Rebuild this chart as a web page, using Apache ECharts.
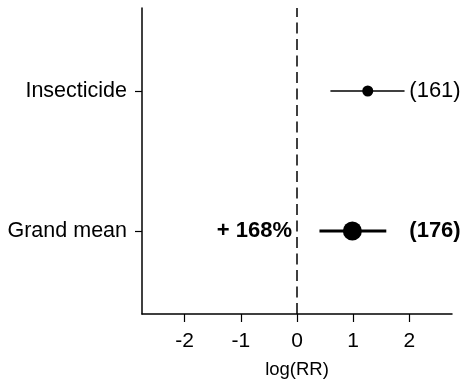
<!DOCTYPE html>
<html>
<head>
<meta charset="utf-8">
<script src="https://cdn.jsdelivr.net/npm/echarts@6/dist/echarts.min.js"></script>
<style>html,body{margin:0;padding:0;background:#fff;}#c{width:464px;height:385px;}</style>
</head>
<body>
<div id="c"></div>
<script>
const categories = ['Grand mean', 'Insecticide'];
const means = [0.986, 1.26];
const lower = [0.40, 0.595];
const upper = [1.59, 1.915];
const counts = ['(176)', '(161)'];
const percentLabels = ['+ 168%', ''];
const xTicks = [-2, -1, 0, 1, 2];
const labelX = 2.0;

const FONT = '"Liberation Sans", Arial, Helvetica, sans-serif';
const isBold = [true, false];
const dotSize = [19, 11];
const barWidth = [3, 1.3];

const chart = echarts.init(document.getElementById('c'), null, {renderer: 'canvas'});

const barData = categories.map((c, i) => [lower[i], upper[i], i]);
const pointData = categories.map((c, i) => ({value: [means[i], i], symbolSize: dotSize[i]}));
const textData = categories.map((c, i) => [labelX, i, i]);
const pctData = categories.map((c, i) => [0, i, i]);

chart.setOption({
  animation: false,
  grid: {left: 142, right: 12, top: 8, bottom: 71},
  xAxis: {
    type: 'value', min: -2.76, max: 2.76,
    name: 'log(RR)', nameLocation: 'middle', nameGap: 46,
    nameTextStyle: {fontFamily: FONT, fontSize: 18.5, color: '#000'},
    splitLine: {show: false},
    axisLine: {onZero: false, lineStyle: {color: '#000', width: 1.5}},
    axisTick: {customValues: xTicks, length: 8, lineStyle: {color: '#000', width: 1.2}},
    axisLabel: {customValues: xTicks, margin: 17, fontFamily: FONT, fontSize: 21, color: '#000'}
  },
  yAxis: {
    type: 'value', min: -0.593, max: 1.593,
    splitLine: {show: false},
    axisLine: {show: true, onZero: false, lineStyle: {color: '#000', width: 1.5}},
    axisTick: {show: true, customValues: [0, 1], length: 7, lineStyle: {color: '#000', width: 1.2}},
    axisLabel: {customValues: [0, 1], margin: 15, fontFamily: FONT, fontSize: 21.5, color: '#000',
      formatter: v => categories[Math.round(v)]}
  },
  series: [
    {
      type: 'line', data: [], silent: true,
      markLine: {
        silent: true, symbol: 'none', label: {show: false},
        lineStyle: {color: '#000', type: [11, 5.5], width: 1.5},
        data: [{xAxis: 0}]
      }
    },
    {
      type: 'custom', data: barData, silent: true,
      renderItem: (params, api) => {
        const i = api.value(2);
        const p1 = api.coord([api.value(0), i]);
        const p2 = api.coord([api.value(1), i]);
        return {type: 'line', shape: {x1: p1[0], y1: p1[1], x2: p2[0], y2: p2[1]},
          style: {stroke: '#000', lineWidth: barWidth[i]}};
      }
    },
    {
      type: 'scatter', data: pointData, symbol: 'circle', silent: true,
      itemStyle: {color: '#000', opacity: 1}
    },
    {
      type: 'custom', data: textData, silent: true,
      renderItem: (params, api) => {
        const i = api.value(2);
        const p = api.coord([api.value(0), api.value(1)]);
        return {type: 'text', x: p[0], y: p[1],
          style: {text: counts[i], fill: '#000', font: (isBold[i] ? 'bold ' : '') + '22px ' + FONT,
            textAlign: 'left', textVerticalAlign: 'middle'}};
      }
    },
    {
      type: 'custom', data: pctData, silent: true,
      renderItem: (params, api) => {
        const i = api.value(2);
        const p = api.coord([api.value(0), api.value(1)]);
        return {type: 'text', x: p[0] - 5, y: p[1],
          style: {text: percentLabels[i], fill: '#000', font: 'bold 22px ' + FONT,
            textAlign: 'right', textVerticalAlign: 'middle'}};
      }
    }
  ]
});
</script>
</body>
</html>
